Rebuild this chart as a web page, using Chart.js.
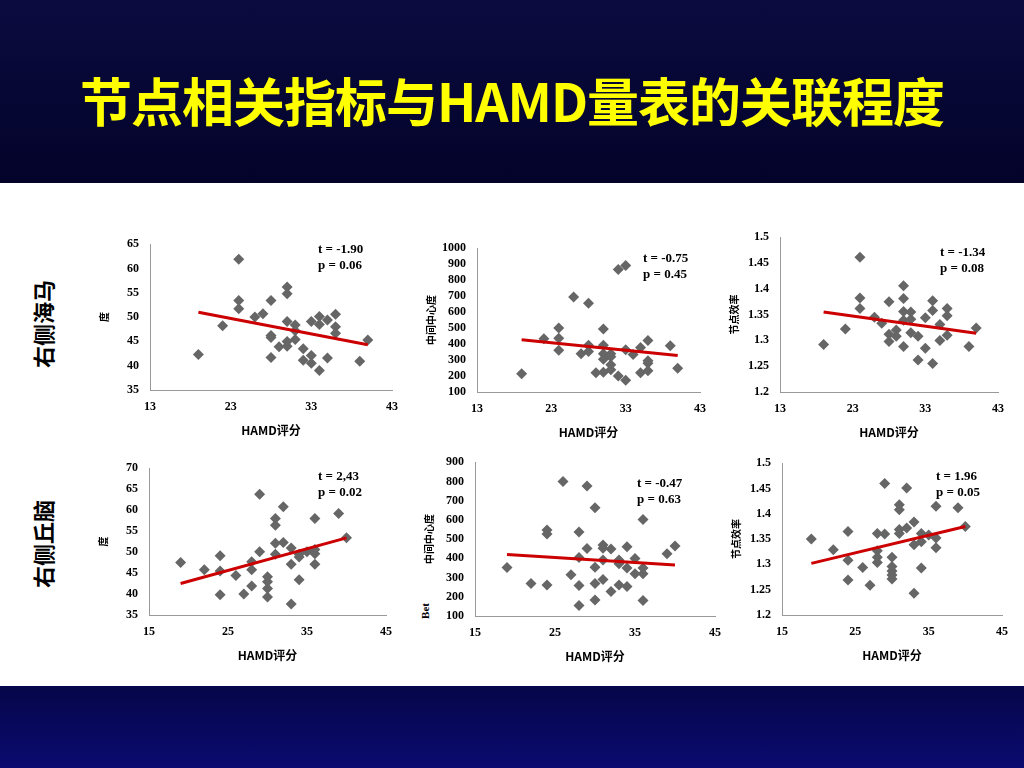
<!DOCTYPE html>
<html>
<head>
<meta charset="utf-8">
<script src="https://cdn.jsdelivr.net/npm/chart.js@4/dist/chart.umd.min.js"></script>
<style>
  body { margin: 0; width: 1024px; height: 768px; position: relative; overflow: hidden; background: #fff; font-family: "Liberation Serif", serif; }
  #top { position: absolute; left: 0; top: 0; width: 1024px; height: 183px; background: linear-gradient(#0b0b40, #03032a); }
  #bottom { position: absolute; left: 0; top: 686px; width: 1024px; height: 82px; background: linear-gradient(#06064a, #0a0a70); }
  #title { position: absolute; left: 0; top: 62px; width: 1024px; text-align: center; color: #ffff00; font: bold 52px "Noto Sans CJK SC", sans-serif; letter-spacing: -1px; }
  .row { position: absolute; font: bold 22px "Noto Sans CJK SC", sans-serif; color: #000; transform: rotate(-90deg); white-space: nowrap; }
  .note { position: absolute; font: bold 13px "Liberation Serif", serif; color: #000; line-height: 16px; white-space: pre; }
  .yl { position: absolute; font: bold 11px "Liberation Serif", serif; transform: rotate(-90deg); }
  canvas { position: absolute; }
</style>
</head>
<body>
<div id="top"></div>
<div id="bottom"></div>
<div id="title">节点相关指标与HAMD量表的关联程度</div>
<div class="row" style="left:-2px; top:308px;">右侧海马</div>
<div class="row" style="left:-2px; top:528px;">右侧丘脑</div>
<div class="yl" style="left:417px; top:605px;">Bet</div>

<script>
// 右侧海马 - 度
const hipDegX = [19,22,24,24,24,26,27,28,28,28,28,29,30,30,30,30,30,31,31,31,32,32,33,33,33,34,34,34,35,35,36,36,36,39,40];
const hipDegY = [42.3,48.2,61.9,53.4,51.7,50.0,50.7,53.4,46.2,45.8,41.7,43.9,56.2,54.8,49.1,45.0,44.0,48.4,47.2,45.4,43.5,41.1,42.1,40.5,49.1,50.1,48.5,39.0,41.6,49.4,50.6,48.0,46.7,40.9,45.3];
const hipDegFit = [51.0, 44.3];

// 右侧海马 - 中间中心度
const hipBetX = [19,22,24,24,24,26,27,28,28,28,29,30,30,30,30,30,31,31,31,31,32,32,33,33,33,34,35,35,36,36,36,36,39,40];
const hipBetY = [215,433,501,436,362,695,340,656,393,354,221,495,393,339,305,223,340,320,270,240,200,867,892,174,364,335,378,221,423,296,280,233,390,249];
const hipBetFit = [427, 329];

// 右侧海马 - 节点效率
const hipEffX = [19,22,24,24,24,26,27,28,28,28,29,29,30,30,30,30,30,31,31,31,32,32,33,33,34,34,34,35,35,36,36,36,39,40];
const hipEffY = [1.292,1.322,1.461,1.382,1.362,1.345,1.333,1.375,1.312,1.298,1.320,1.308,1.406,1.381,1.356,1.339,1.288,1.355,1.341,1.315,1.308,1.262,1.344,1.285,1.377,1.358,1.255,1.331,1.300,1.362,1.348,1.310,1.288,1.324];
const hipEffFit = [1.355, 1.314];

// 右侧丘脑 - 度
const thaDegX = [19,22,24,24,24,26,27,28,28,28,29,29,30,30,30,30,31,31,31,31,32,32,33,33,33,34,34,34,35,36,36,36,36,39,40];
const thaDegY = [47.5,45.8,49.1,45.5,39.8,44.4,40.0,47.7,45.8,41.9,50.1,63.8,44.1,42.9,41.3,39.3,58.0,56.4,52.1,49.5,60.8,52.3,51.0,47.1,37.6,49.5,43.4,48.8,50.1,58.0,50.6,49.6,47.1,59.2,53.4];
const thaDegFit = [42.5, 53.4];

// 右侧丘脑 - 中间中心度
const thaBetX = [19,22,24,24,24,26,27,28,28,28,28,29,29,30,30,30,30,31,31,31,31,32,32,33,33,33,34,34,34,35,35,36,36,36,36,39,40];
const thaBetY = [352,269,547,526,261,799,315,537,404,258,155,776,451,663,354,269,183,469,453,391,290,448,228,391,372,261,460,350,253,399,320,602,350,320,180,424,464];
const thaBetFit = [420, 365];

// 右侧丘脑 - 节点效率
const thaEffX = [19,22,24,24,24,26,27,28,28,28,28,29,29,30,30,30,30,30,31,31,31,31,32,32,33,33,33,34,34,34,35,36,36,36,39,40];
const thaEffY = [1.350,1.329,1.365,1.308,1.269,1.294,1.259,1.361,1.327,1.314,1.304,1.460,1.360,1.314,1.296,1.287,1.279,1.271,1.418,1.408,1.369,1.361,1.451,1.372,1.384,1.339,1.243,1.361,1.345,1.293,1.358,1.415,1.352,1.333,1.412,1.375];
const thaEffFit = [1.302, 1.375];

const panels = [
  { x: hipDegX, y: hipDegY, fit: hipDegFit, fitX: [19, 40], xr: [13, 43, 10], yr: [35, 65, 5], ytitle: "度",
    box: [150, 392, 244, 400], note: "t = -1.90\np = 0.06", nx: 318, ny: 241 },
  { x: hipBetX, y: hipBetY, fit: hipBetFit, fitX: [19, 40], xr: [13, 43, 10], yr: [100, 1000, 100], ytitle: "中间中心度",
    box: [477, 700, 248, 402], note: "t = -0.75\np = 0.45", nx: 643, ny: 250 },
  { x: hipEffX, y: hipEffY, fit: hipEffFit, fitX: [19, 40], xr: [13, 43, 10], yr: [1.2, 1.5, 0.05], ytitle: "节点效率",
    box: [780, 998, 237, 402], note: "t = -1.34\np = 0.08", nx: 940, ny: 244 },
  { x: thaDegX, y: thaDegY, fit: thaDegFit, fitX: [19, 40], xr: [15, 45, 10], yr: [35, 70, 5], ytitle: "度",
    box: [149, 386, 468, 625], note: "t = 2,43\np = 0.02", nx: 318, ny: 468 },
  { x: thaBetX, y: thaBetY, fit: thaBetFit, fitX: [19, 40], xr: [15, 45, 10], yr: [100, 900, 100], ytitle: "中间中心度",
    box: [475, 715, 462, 626], note: "t = -0.47\np = 0.63", nx: 637, ny: 475 },
  { x: thaEffX, y: thaEffY, fit: thaEffFit, fitX: [19, 40], xr: [15, 45, 10], yr: [1.2, 1.5, 0.05], ytitle: "节点效率",
    box: [782, 1002, 463, 625], note: "t = 1.96\np = 0.05", nx: 936, ny: 468 }
];

const tickFont = { family: "Liberation Serif", size: 12, weight: "bold" };

panels.forEach(p => {
  const [l, r, t, b] = p.box;
  const cv = document.createElement("canvas");
  const left = l - 52, top = t - 10, w = r - l + 64, h = b - t + 52;
  cv.style.left = left + "px";
  cv.style.top = top + "px";
  cv.style.width = w + "px";
  cv.style.height = h + "px";
  cv.width = w; cv.height = h;
  document.body.appendChild(cv);

  const note = document.createElement("div");
  note.className = "note";
  note.style.left = p.nx + "px";
  note.style.top = p.ny + "px";
  note.textContent = p.note;
  document.body.appendChild(note);

  const pts = p.x.map((v, i) => ({ x: v, y: p.y[i] }));
  new Chart(cv, {
    type: "scatter",
    data: {
      datasets: [
        { data: pts, pointStyle: "rectRot", radius: 5.5, backgroundColor: "#666666", borderColor: "#666666", borderWidth: 0, order: 2 },
        { type: "line", data: [{ x: p.fitX[0], y: p.fit[0] }, { x: p.fitX[1], y: p.fit[1] }],
          borderColor: "#cc0000", borderWidth: 3, pointRadius: 0, order: 1 }
      ]
    },
    options: {
      responsive: false, animation: false, devicePixelRatio: 1,
      layout: { padding: { top: 10, right: 12, left: 0, bottom: 0 } },
      plugins: { legend: { display: false }, tooltip: { enabled: false } },
      scales: {
        x: {
          type: "linear", min: p.xr[0], max: p.xr[1],
          ticks: { stepSize: p.xr[2], color: "#000", font: tickFont, padding: 2 },
          grid: { display: false }, border: { color: "#999" },
          title: { display: true, text: "HAMD评分", color: "#000", font: { family: "Noto Sans CJK SC", size: 12, weight: "bold" }, padding: { top: 2 } },
          afterFit: s => { s.height = 52; }
        },
        y: {
          min: p.yr[0], max: p.yr[1],
          ticks: { stepSize: p.yr[2], autoSkip: false, color: "#000", font: tickFont, padding: 3,
                   callback: v => String(Math.round(v * 1000) / 1000) },
          grid: { display: false }, border: { color: "#999" },
          title: { display: true, text: p.ytitle, color: "#000", font: { family: "Noto Sans CJK SC", size: 10, weight: "bold" }, padding: 0 },
          afterFit: s => { s.width = 52; }
        }
      }
    }
  });
});
</script>
</body>
</html>
